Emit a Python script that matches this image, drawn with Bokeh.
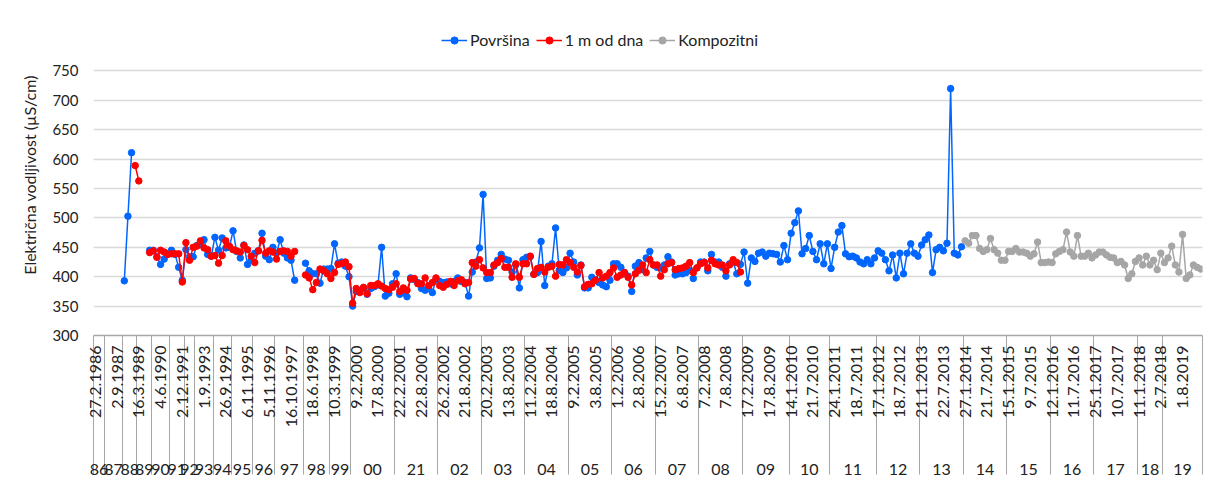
import numpy as np
from bokeh.plotting import figure
from bokeh.models import (FixedTicker, LinearAxis, Legend, LegendItem, Range1d, ColumnDataSource,
                          BoxAnnotation)
from bokeh.embed import file_html
from bokeh.resources import INLINE

# ---------------- data ----------------
year_labels = ["86", "87", "88", "89", "90", "91", "92", "93", "94", "95", "96", "97", "98", "99",
               "00", "21", "02", "03", "04", "05", "06", "07", "08", "09", "10", "11", "12", "13",
               "14", "15", "16", "17", "18", "19"]
year_counts = [3, 5, 4, 4, 5, 4, 3, 5, 5, 6, 6, 8, 7, 6,
               12, 12, 12, 12, 12, 12, 12, 12, 12, 13, 11, 13, 12, 12,
               12, 12, 12, 12, 7, 11]
date_labels = ["27.2.1986", "2.9.1987", "16.3.1989", "4.6.1990", "2.12.1991", "1.9.1993",
               "26.9.1994", "6.11.1995", "5.11.1996", "16.10.1997", "18.6.1998", "10.3.1999",
               "9.2.2000", "17.8.2000", "22.2.2001", "22.8.2001", "26.2.2002", "21.8.2002",
               "20.2.2003", "13.8.2003", "11.2.2004", "18.8.2004", "9.2.2005", "3.8.2005",
               "1.2.2006", "2.8.2006", "15.2.2007", "6.8.2007", "7.2.2008", "7.8.2008",
               "17.2.2009", "17.8.2009", "14.1.2010", "21.7.2010", "24.1.2011", "18.7.2011",
               "17.1.2012", "18.7.2012", "21.1.2013", "22.7.2013", "27.1.2014", "21.7.2014",
               "15.1.2015", "9.7.2015", "12.1.2016", "11.7.2016", "25.1.2017", "10.7.2017",
               "11.1.2018", "2.7.2018", "1.8.2019"]
label_step = 6

povrsina = ([None] * 8 + [393, 503, 611] + [None] * 4 +
            [445, 445, 434, 421, 430, 439, 445, 438, 416, 394,
             446, 434, 434, 453, 455, 463, 438, 435, 467, 445,
             466, 449, 450, 478, 443, 432, 454, 421, 429, 440,
             444, 474, 435, 429, 450, 440, 463, 440, 432, 428, 394,
             None, None,
             423, 410, 405, 405, 389, 413, 413, 414, 456, 423,
             425, 418, 400, 350, 375, 376, 380, 370, 380, 383,
             386, 450, 367, 372, 388, 405, 370, 373, 366, 398,
             395, 390, 380, 377, 380, 373, 395, 392, 390, 391,
             388, 392, 398, 392, 390, 367,
             408, 425, 449, 540, 397, 398, 418, 428, 438, 430,
             428, 408, 420, 381, 429, 433, 434, 404, 407, 460,
             385, 418, 422, 483, 411, 407, 415, 440, 425, 403,
             420, 381, 381, 399, 395, 390, 386, 383, 394, 422,
             422, 416, 407, 401, 375, 418, 424, 412, 432, 443,
             420, 416, 415, 420, 434, 425, 403, 405, 405, 407,
             411, 397, 415, 425, 425, 410, 438, 425, 425, 416,
             401, 422, 425, 405, 421, 442, 389, 432, 426, 440,
             442, 435, 440, 439, 438, 425, 453, 429, 474, 492,
             512, 439, 448, 470, 443, 429, 456, 422, 456, 414,
             450, 476, 487, 439, 434, 435, 432, 425, 422, 429,
             422, 432, 444, 440, 429, 410, 437, 398, 440, 405,
             440, 456, 440, 435, 454, 463, 471, 407, 446, 450,
             444, 457, 720, 440, 437, 451] + [None] * 66)

dno = ([None] * 11 + [589, 563] + [None] * 2 +
       [441, 444, 433, 445, 442, 438, 439, 439, 439, 391,
        458, 428, 450, 452, 461, 449, 446, 435, 436, 423,
        436, 461, 452, 446, 444, 442, 453, 446, 435, 424,
        444, 462, 440, 444, 442, 430, 443, 444, 443, 435, 443,
        None, None,
        403, 398, 378, 390, 413, 410, 405, 397, 407, 421,
        422, 425, 417, 355, 380, 373, 382, 371, 385, 385,
        388, 384, 380, 378, 382, 388, 375, 381, 377, 396,
        397, 388, 388, 398, 385, 390, 398, 385, 382, 387,
        392, 385, 393, 395, 388, 390,
        424, 418, 429, 415, 407, 407, 420, 424, 431, 416,
        416, 399, 422, 399, 422, 422, 435, 404, 414, 416,
        408, 416, 418, 401, 421, 420, 429, 424, 416, 408,
        419, 383, 387, 388, 394, 407, 398, 401, 407, 415,
        399, 403, 407, 399, 386, 405, 411, 420, 407, 429,
        420, 420, 401, 412, 422, 424, 412, 414, 415, 418,
        424, 407, 415, 422, 424, 415, 428, 422, 420, 420,
        410, 420, 429, 424, 408] + [None] * 127)

kompozitni = ([None] * 240 +
              [461, 457, 470, 470, 448, 443, 446, 465, 446, 440,
               428, 428, 443, 443, 448, 442, 442, 440, 435, 439,
               459, 424, 424, 425, 424, 439, 443, 446, 476, 442,
               435, 470, 435, 435, 440, 432, 437, 442, 442, 437,
               433, 432, 424, 426, 420, 397, 405, 426, 432, 420,
               435, 420, 428, 412, 440, 424, 432, 452, 420, 408,
               472, 397, 403, 420, 416, 413])

# ---------------- derived ----------------
N = sum(year_counts)
idx = np.arange(N)

def arr(v):
    return np.array([np.nan if a is None else a for a in v], dtype=float)

src = ColumnDataSource(dict(x=idx, b=arr(povrsina), r=arr(dno), g=arr(kompozitni)))

bounds = np.concatenate([[0], np.cumsum(year_counts)])
minor = [float(b) - 0.5 for b in bounds]
centers = [float((bounds[k] + bounds[k + 1] - 1) / 2) for k in range(len(year_counts))]
label_pos = [k * label_step for k in range(len(date_labels))]

FONT = "Lato"
TXT = "#222222"
SEP = 139  # length of category separators below the axis line
FL, FB = 93, 338  # frame left / bottom in page pixels

p = figure(width=1206, height=477, output_backend="svg", toolbar_location=None,
           x_range=Range1d(-0.5, N - 0.5), y_range=Range1d(300, 846.1),
           min_border_left=FL, min_border_right=4, min_border_top=14, min_border_bottom=0)
p.outline_line_color = None
p.background_fill_color = "white"
p.border_fill_color = "white"

# y axis
yt = FixedTicker(ticks=list(range(300, 751, 50)))
p.yaxis.ticker = yt
p.ygrid.ticker = yt
p.ygrid.grid_line_color = "#d9d9d9"
p.ygrid.grid_line_width = 1.5
p.xgrid.visible = False
p.yaxis.axis_line_color = None
p.yaxis.major_tick_line_color = None
p.yaxis.major_tick_out = 0
p.yaxis.major_tick_in = 0
p.yaxis.minor_tick_line_color = None
p.yaxis.minor_tick_out = 0
p.yaxis.major_label_text_font = FONT
p.yaxis.major_label_text_font_size = "15px"
p.yaxis.major_label_text_color = TXT
p.yaxis.major_label_standoff = 15
p.yaxis.axis_label = "Električna vodljivost (µS/cm)"
p.yaxis.axis_label_text_font = FONT
p.yaxis.axis_label_text_font_size = "16px"
p.yaxis.axis_label_text_font_style = "normal"
p.yaxis.axis_label_text_color = TXT
p.yaxis.axis_label_standoff = 10

# x axis: dates + category separators
xa = p.xaxis[0]
xa.ticker = FixedTicker(ticks=label_pos, minor_ticks=minor)
xa.major_label_overrides = {pos: lab for pos, lab in zip(label_pos, date_labels)}
xa.major_label_orientation = np.pi / 2
xa.major_label_text_font = FONT
xa.major_label_text_font_size = "16px"
xa.major_label_text_color = TXT
xa.major_label_standoff = 10 - SEP
xa.major_tick_in = 0
xa.major_tick_out = 0
xa.minor_tick_in = 0
xa.minor_tick_out = SEP
xa.minor_tick_line_color = "#a6a6a6"
xa.minor_tick_line_width = 1
xa.axis_line_color = "#a6a6a6"
xa.axis_line_width = 1.5

# x axis: years
ya = LinearAxis(ticker=FixedTicker(ticks=centers, minor_ticks=[]),
                major_label_overrides={c: y for c, y in zip(centers, year_labels)})
ya.axis_line_color = None
ya.major_tick_line_color = None
ya.major_tick_out = 0
ya.major_tick_in = 0
ya.minor_tick_line_color = None
ya.minor_tick_out = 0
ya.minor_tick_in = 0
ya.major_label_text_font = FONT
ya.major_label_text_font_size = "16px"
ya.major_label_text_color = TXT
ya.major_label_standoff = 33
p.add_layout(ya, "below")

# series
BLUE = "#0066ff"
RED = "#ff0000"
GRAY = "#a6a6a6"
lb = p.line("x", "b", source=src, line_color=BLUE, line_width=1.5)
sb = p.scatter("x", "b", source=src, size=6.5, fill_color=BLUE, line_color=BLUE)
lr = p.line("x", "r", source=src, line_color=RED, line_width=1.5)
sr = p.scatter("x", "r", source=src, size=6.5, fill_color=RED, line_color=RED)
lg = p.line("x", "g", source=src, line_color=GRAY, line_width=1.5)
sg = p.scatter("x", "g", source=src, size=6.5, fill_color=GRAY, line_color=GRAY)

legend = Legend(items=[LegendItem(label="Površina", renderers=[lb, sb]),
                       LegendItem(label="1 m od dna", renderers=[lr, sr]),
                       LegendItem(label="Kompozitni", renderers=[lg, sg])],
                orientation="horizontal", location=(348, 286))
legend.border_line_color = None
legend.background_fill_alpha = 0
legend.label_text_font = FONT
legend.label_text_font_size = "16px"
legend.label_text_color = TXT
legend.glyph_width = 26
legend.glyph_height = 18
legend.label_standoff = 3
legend.spacing = 6
legend.padding = 2
legend.margin = 0
p.add_layout(legend, "center")

# chart-area border (screen units, relative to the frame's bottom-left)
border = BoxAnnotation(left=6 - FL, right=1220 - FL, top=FB - 10, bottom=FB - 490,
                       left_units="screen", right_units="screen",
                       top_units="screen", bottom_units="screen",
                       fill_alpha=0, line_color="#d9d9d9", line_width=1.5, level="overlay",
                       editable=False)
p.add_layout(border)

open("out.html", "w").write(file_html(p, INLINE))
